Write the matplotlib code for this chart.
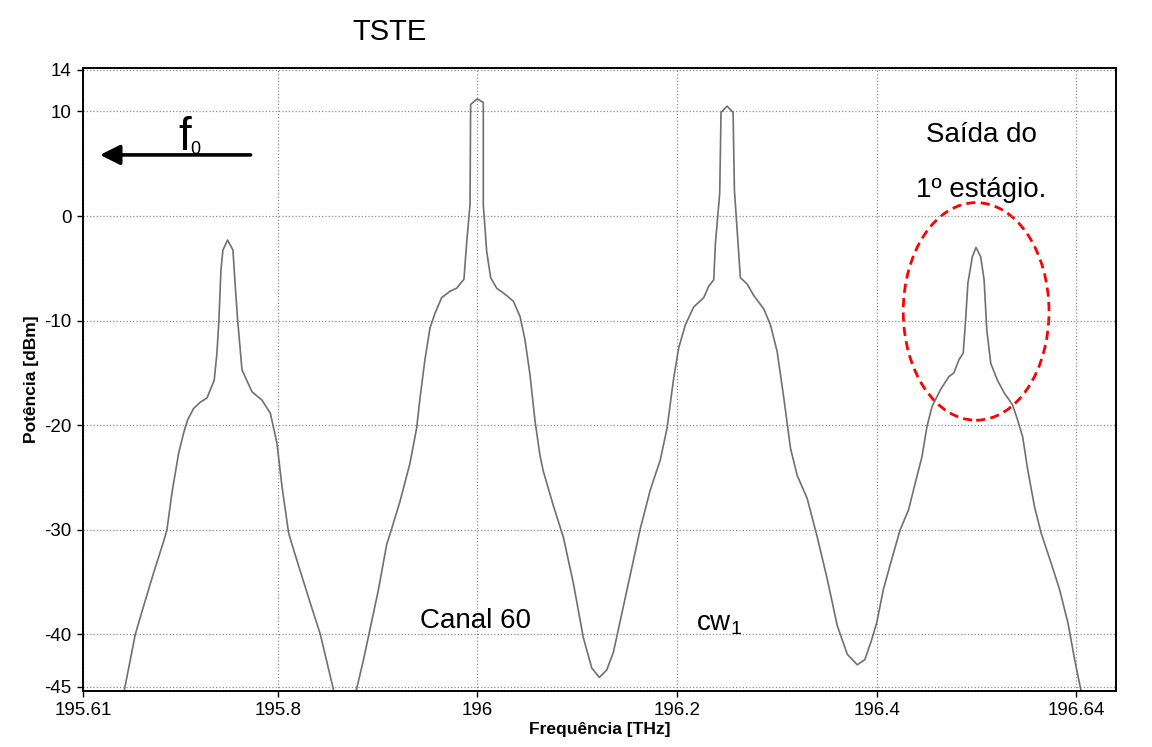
import matplotlib
matplotlib.use('Agg')
import matplotlib.pyplot as plt
from matplotlib.patches import Ellipse

plt.rcParams['font.family'] = ['Liberation Sans', 'DejaVu Sans']
plt.rcParams['mathtext.default'] = 'regular'
plt.rcParams['axes.unicode_minus'] = False

# spectrum, one piece per channel (THz, dBm)
freq_1 = [195.640, 195.6464, 195.6574, 195.6657, 195.6758, 195.6858, 195.6891, 195.6941,
          195.7008, 195.7058, 195.7098, 195.7158, 195.7225, 195.7292, 195.7365, 195.7392,
          195.7412, 195.7432, 195.7452, 195.7499, 195.7552, 195.7576, 195.7599, 195.7643,
          195.7743, 195.7843, 195.7927, 195.7993, 195.8043, 195.811, 195.816, 195.8327,
          195.8428, 195.8561, 195.862]
pow_1 = [-47, -45.35, -40.0, -37.3, -34.1, -31.1, -30.0, -26.5,
         -22.7, -20.75, -19.5, -18.4, -17.8, -17.4, -15.7, -13.1,
         -9.9, -5.2, -3.25, -2.3, -3.25, -6.75, -9.9, -14.7,
         -16.8, -17.6, -18.85, -21.7, -25.8, -30.3, -31.9, -37.0,
         -40.0, -45.35, -47]

freq_2 = [195.873, 195.8791, 195.8858, 195.8925, 195.9008, 195.9092, 195.9142, 195.9225,
          195.9325, 195.9392, 195.9426, 195.9476, 195.9526, 195.9576, 195.9643, 195.9726,
          195.9793, 195.9866, 195.9893, 195.9927, 195.9933, 196.0, 196.006, 196.006,
          196.0094, 196.0134, 196.0194, 196.0294, 196.0361, 196.0428, 196.0478, 196.0528,
          196.0578, 196.0628, 196.0661, 196.0762, 196.0862, 196.0962, 196.1062, 196.1146,
          196.1222]
pow_2 = [-47, -45.2, -42.5, -39.5, -35.8, -31.4, -29.9, -27.3,
         -23.65, -20.3, -17.4, -13.7, -10.7, -9.3, -7.8, -7.2,
         -6.9, -6.05, -2.6, 1.1, 10.66, 11.2, 10.85, 1.07,
         -3.4, -5.9, -6.9, -7.6, -8.15, -9.6, -11.85, -15.2,
         -19.6, -22.9, -24.4, -27.7, -30.7, -35.1, -40.3, -43.2,
         -44.1]

freq_3 = [196.1296, 196.1363, 196.1463, 196.1632, 196.1732, 196.1833, 196.19, 196.1967,
          196.2017, 196.2084, 196.2167, 196.2268, 196.2318, 196.2368, 196.2385, 196.2428,
          196.2441, 196.2502, 196.2562, 196.2575, 196.2635, 196.2702, 196.2769, 196.287,
          196.2936, 196.3003, 196.307, 196.3137, 196.3204, 196.3304, 196.3405, 196.3505,
          196.3605, 196.3706, 196.3806]
pow_3 = [-43.4, -41.7, -37.3, -29.9, -26.2, -23.3, -20.3, -15.5,
         -12.6, -10.4, -8.7, -7.8, -6.7, -6.1, -2.6, 2.2,
         9.9, 10.5, 9.9, 2.5, -5.9, -6.5, -7.6, -8.9,
         -10.4, -12.95, -17.4, -22.2, -24.8, -27.0, -30.7, -34.7,
         -39.15, -41.9, -42.9]

freq_4 = [196.3882, 196.395, 196.4, 196.4067, 196.4151, 196.4235, 196.4319, 196.4387,
          196.4454, 196.4504, 196.4555, 196.4639, 196.4723, 196.4773, 196.4824, 196.4867,
          196.4891, 196.4914, 196.4958, 196.4995, 196.5042, 196.5076, 196.5103, 196.5143,
          196.521, 196.5277, 196.5361, 196.5412, 196.5462, 196.5513, 196.558, 196.5647,
          196.5748, 196.5832, 196.5916, 196.5983, 196.6044, 196.61]
pow_4 = [-42.4, -40.5, -38.9, -35.7, -32.8, -30.0, -28.1, -25.5,
         -23.0, -20.1, -18.2, -16.6, -15.35, -15.0, -13.75, -13.1,
         -9.9, -6.4, -3.9, -3.0, -3.9, -6.1, -10.9, -14.1,
         -15.7, -16.9, -18.05, -19.5, -21.1, -24.25, -27.75, -30.3,
         -33.2, -35.7, -38.9, -42.4, -45.25, -47]

freq = freq_1 + freq_2 + freq_3 + freq_4
power = pow_1 + pow_2 + pow_3 + pow_4

x_ticks = [195.605, 195.8, 196.0, 196.2, 196.4, 196.6]
x_labels = ['195.61', '195.8', '196', '196.2', '196.4', '196.64']
y_ticks = [-45, -40, -30, -20, -10, 0, 10, 14]

fig = plt.figure(figsize=(11.52, 7.47), dpi=100)
ax = fig.add_axes([0.072, 0.075, 0.897, 0.834])

ax.plot(freq, power, color='#707070', lw=1.2)

ax.set_xlim(195.605, 196.64)
ax.set_ylim(-45.4, 14.15)
ax.set_xticks(x_ticks)
ax.set_xticklabels(x_labels)
ax.set_yticks(y_ticks)
ax.tick_params(labelsize=13.5, length=4, width=1, direction='out', pad=4)
ax.grid(True, linestyle=':', color='#8c8c8c', lw=0.9)
for s in ax.spines.values():
    s.set_linewidth(1.4)
    s.set_color('black')

ax.set_xlabel('Frequência [THz]', fontsize=12.5, fontweight='bold', labelpad=2)
ax.set_ylabel('Potência [dBm]', fontsize=12.5, fontweight='bold', labelpad=4)

fig.text(390 / 1152, 1 - 40 / 747, 'TSTE', fontsize=21, ha='center', va='baseline')

# f0 arrow
ax.annotate('', xy=(195.6193, 5.84), xytext=(195.7757, 5.84),
            arrowprops=dict(arrowstyle='-|>', lw=2.6, color='black', mutation_scale=30))
ax.text(195.7005, 6.35, 'f', fontsize=33, ha='left', va='baseline')
ax.text(195.7125, 5.95, '0', fontsize=13, ha='left', va='baseline')

ax.text(196.505, 7.08, 'Saída do', fontsize=20, ha='center', va='baseline')
ax.text(196.505, 1.82, '1º estágio.', fontsize=20, ha='center', va='baseline')
ax.text(195.998, -39.4, 'Canal 60', fontsize=20, ha='center', va='baseline')
ax.text(196.2186, -39.6, 'cw$_1$', fontsize=20, ha='left', va='baseline')

ell = Ellipse((196.4996, -9.12), 0.146, 20.8, fill=False, edgecolor='red',
              lw=2.0, linestyle=(0, (3.3, 1.9)))
ax.add_patch(ell)

fig.savefig('out.png', dpi=100)
